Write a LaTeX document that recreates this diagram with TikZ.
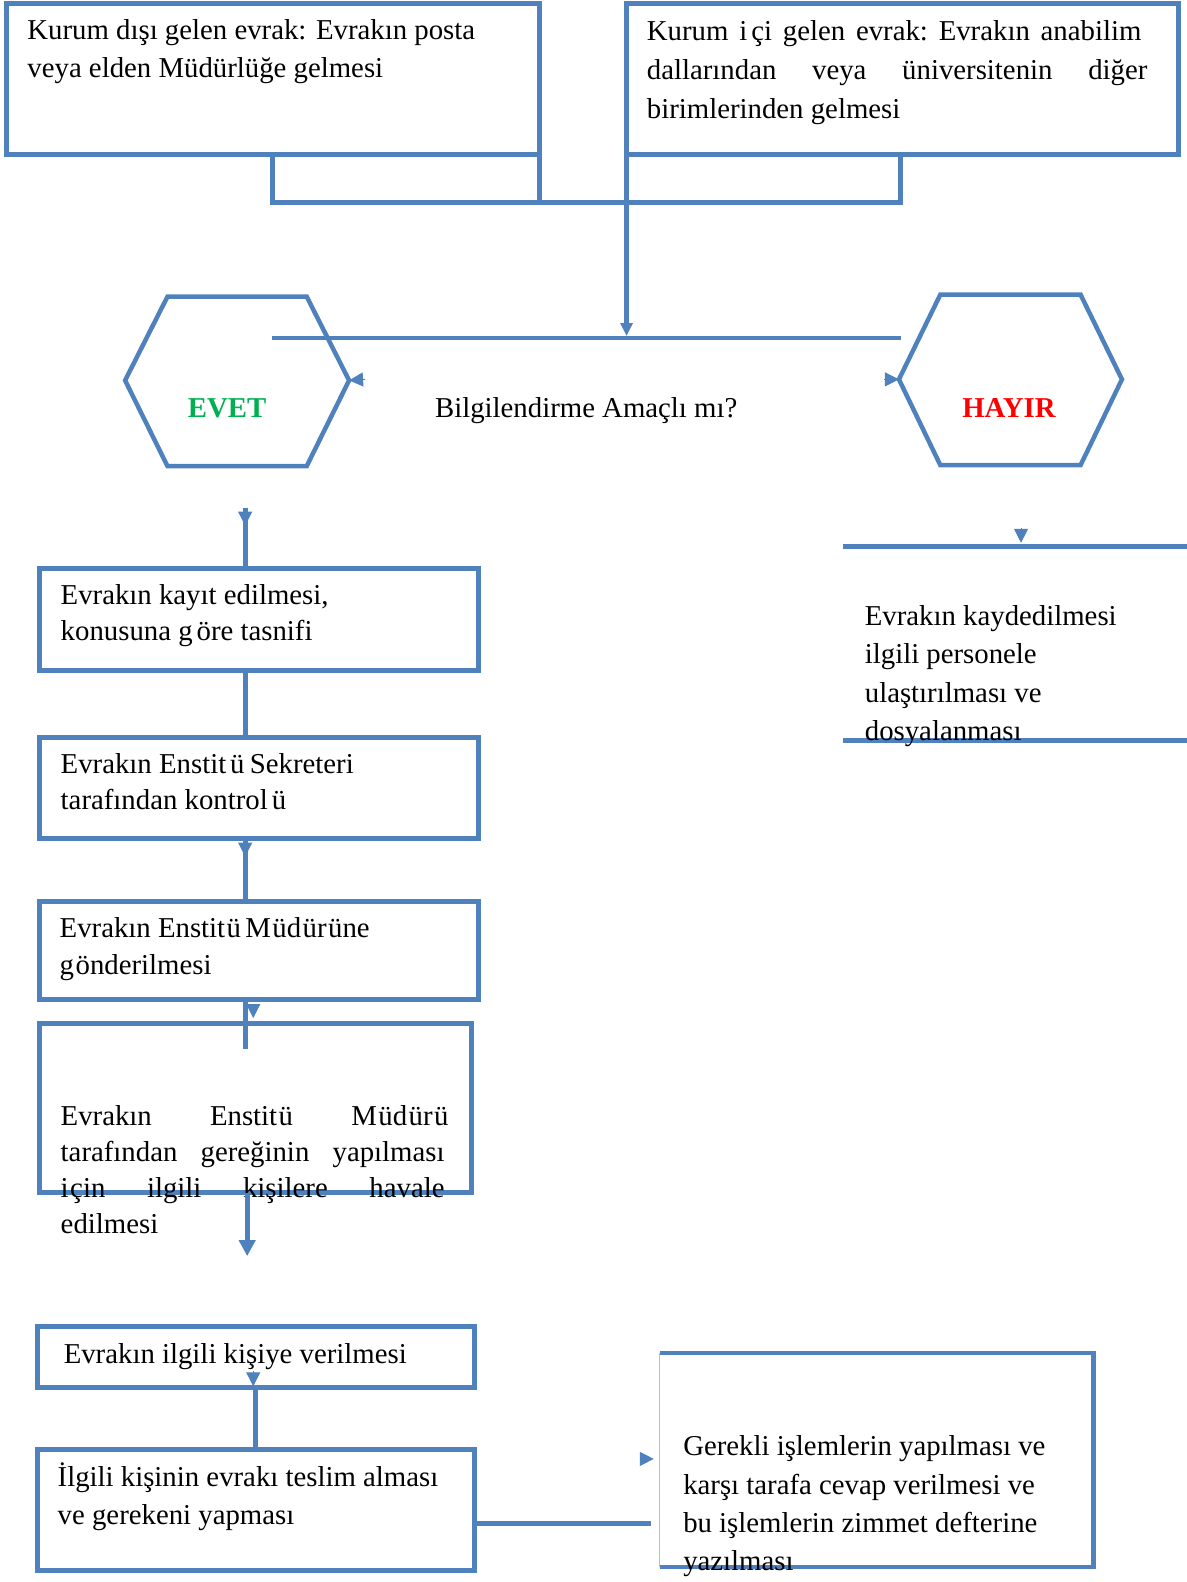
\documentclass[tikz,border=0pt]{standalone}
\usepackage{fontspec}
\setmainfont{Liberation Serif}
\usetikzlibrary{arrows.meta,fit}
\definecolor{frame}{RGB}{79,129,189}
\definecolor{framelight}{RGB}{170,195,225}
\definecolor{yesgreen}{RGB}{0,176,80}
\definecolor{nored}{RGB}{255,0,0}
\newcommand\gp{\kern4pt}
\newcommand\gq{\kern1.5pt}
\newcommand\bodyfont[1]{\fontsize{28.8}{#1}\selectfont}
\begin{document}
\begin{tikzpicture}[x=1.0094pt,y=-1.0094pt,
  box/.style={draw=frame, line width=5pt, inner sep=0pt, outer sep=0pt},
  conn/.style={draw=frame, line width=5pt},
  hexa/.style={draw=frame, line width=4.5pt, line join=miter},
  txt/.style={anchor=base west, inner sep=0pt},
  lbl/.style={anchor=base, inner sep=0pt, font=\bodyfont{34}},
  tiponly/.style={draw=frame, line width=1pt, -{Triangle[length=14pt,width=14pt]}},
  tipend/.style={-{Triangle[length=16pt,width=16pt]}}
]
\useasboundingbox (0,0) rectangle (1176,1568);

% --- incoming documents ---
\node[box, fit={(6,3) (535,153)}] (ext) {};
\node[txt] (exttxt) at (27,39) {\parbox[t]{520pt}{\bodyfont{38.6}Kurum dışı gelen evrak: Evrakın posta\\veya elden Müdürlüğe gelmesi}};

\node[box, fit={(621,3) (1168,153)}] (int) {};
\node[txt] (inttxt) at (641,40) {\parbox[t]{500.7pt}{\bodyfont{38.9}Kurum\hfill i\gp çi\hfill gelen\hfill evrak:\hfill Evrakın\hfill anabilim\hspace*{6pt}\\dallarından\hfill veya\hfill üniversitenin\hfill diğer\\birimlerinden gelmesi}};

% merge bracket under the two boxes
\coordinate (m1) at (270,201);
\coordinate (m2) at (893,201);
\coordinate (barL) at (270,335);
\coordinate (barR) at (893,335);
\draw[conn] (ext.south -| m1) -- (m1) -- (m2) -- (int.south -| m2);
\draw[conn] (ext.south east) -- (ext.south east |- m1);
\draw[conn, -{Triangle[length=13pt,width=12pt]}] (int.south west) -- ([yshift=2pt]int.south west |- barL);
\draw[conn] (barL) -- (barR);

% --- decision ---
\coordinate (eNW) at (166,294); \coordinate (eNE) at (304,294);
\coordinate (eE) at (346,377);  \coordinate (eSE) at (304,462);
\coordinate (eSW) at (166,462); \coordinate (eW) at (124,377);
\draw[hexa] (eNW) -- (eNE) -- (eE) -- (eSE) -- (eSW) -- (eW) -- cycle;
\node[lbl, text=yesgreen, font=\bodyfont{34}\bfseries] (evet) at (225,414) {EVET};

\node[lbl] (question) at (581,414) {Bilgilendirme Amaçlı mı?};

\coordinate (hNW) at (932,292); \coordinate (hNE) at (1071,292);
\coordinate (hE) at (1112,376); \coordinate (hSE) at (1071,461);
\coordinate (hSW) at (932,461); \coordinate (hW) at (891,376);
\draw[hexa] (hNW) -- (hNE) -- (hE) -- (hSE) -- (hSW) -- (hW) -- cycle;
\node[lbl, text=nored, font=\bodyfont{34}\bfseries] (hayir) at (1000,414) {HAYIR};

\coordinate (aE) at (362,376);
\draw[tiponly] (aE) -- (eE);
\coordinate (aW) at (876,376);
\draw[tiponly] (aW) -- (hW);

% --- HAYIR branch ---
\coordinate (hy1) at (1012,523);
\coordinate (hy2) at (1012,538);
\draw[tiponly] (hy1) -- (hy2);
\coordinate (hl1) at (836,542); \coordinate (hl2) at (1180,542);
\coordinate (hl3) at (836,734); \coordinate (hl4) at (1180,734);
\draw[conn] (hl1) -- (hl2);
\draw[conn] (hl3) -- (hl4);
\node[txt] (filetxt) at (857,620) {\parbox[t]{320pt}{\bodyfont{38.4}Evrakın kaydedilmesi\\ilgili personele\\ulaştırılması ve\\dosyalanması}};

% --- EVET branch ---
\coordinate (spine) at (243,0);
\coordinate (e1) at (243,503);
\coordinate (e1t) at (243,521);
\draw[tiponly] (e1) -- (e1t);

\node[box, fit={(39,563) (474,665)}] (b3) {};
\node[txt] (b3txt) at (60,599) {\parbox[t]{420pt}{\bodyfont{36}Evrakın kayıt edilmesi,\\konusuna g\gp öre tasnifi}};
\draw[conn] (e1) -- (b3.north -| spine);

\node[box, fit={(39,731) (474,831)}] (b4) {};
\node[txt] (b4txt) at (60,767) {\parbox[t]{420pt}{\bodyfont{36}Evrakın Enstit\gp ü\kern-2pt\ Sekreteri\\tarafından kontrol\gp ü}};
\draw[conn] (b3.south -| spine) -- (b4.north -| spine);

\node[box, fit={(39,894) (474,991)}] (b5) {};
\node[txt] (b5txt) at (59,929) {\parbox[t]{420pt}{\bodyfont{37}Evrakın Enstit\gq ü\kern-3pt\ M\gq üd\gq ür\gq üne\\g\gq önderilmesi}};
\draw[conn] (b4.south -| spine) -- (b5.north -| spine);
\coordinate (t4) at (243,835); \coordinate (t4e) at (243,849);
\draw[tiponly] (t4) -- (t4e);

\node[box, fit={(39,1014) (467,1182)}] (b6) {};
\node[txt] (b6txt) at (60,1116) {\parbox[t]{388pt}{\bodyfont{36}Evrakın\hfill Enstit\gq ü\hfill M\gq üd\gq ür\gq ü\\tarafından\hfill gereğinin\hfill yapılması\hspace*{4pt}\\i\gq çin\hfill ilgili\hfill kişilere\hfill havale\hspace*{4pt}\\edilmesi}};
\coordinate (t5) at (251,995); \coordinate (t5e) at (251,1009);
\draw[tiponly] (t5) -- (t5e);
\coordinate (s6) at (243,1040);
\draw[conn] (b5.south -| spine) -- (s6);

\coordinate (s7) at (245,1245);
\draw[conn, tipend] (b6.south -| s7) -- (s7);

\node[box, fit={(37,1315) (470,1375)}] (b7) {};
\node[txt] (b7txt) at (63,1351) {\parbox[t]{420pt}{\bodyfont{36}Evrakın ilgili kişiye verilmesi}};
\coordinate (t7) at (251,1359); \coordinate (t7e) at (251,1374);
\draw[tiponly] (t7) -- (t7e);

\coordinate (spine2) at (253,0);
\node[box, fit={(37,1437) (470,1557)}] (b8) {};
\node[txt] (b8txt) at (57,1473) {\parbox[t]{420pt}{\bodyfont{38}İlgili kişinin evrakı teslim alması\\ve gerekeni yapması}};
\draw[conn] (b7.south -| spine2) -- (b8.north -| spine2);

% --- final step ---
\node[inner sep=0pt, outer sep=0pt, fit={(654,1341) (1084,1553)}] (b9) {};
\draw[draw=frame, line width=4.5pt, line join=miter] (b9.north west) -- (b9.north east) -- (b9.south east) -- (b9.south west);
\draw[draw=framelight, line width=1pt] (b9.north west) -- (b9.south west);
\node[txt] (b9txt) at (677,1443) {\parbox[t]{420pt}{\bodyfont{38.3}Gerekli işlemlerin yapılması ve\\karşı tarafa cevap verilmesi ve\\bu işlemlerin zimmet defterine\\yazılması}};

\coordinate (r1) at (645,1510);
\draw[conn] (b8.east |- r1) -- (r1);
\coordinate (t9) at (634,1446); \coordinate (t9e) at (648,1446);
\draw[tiponly] (t9) -- (t9e);
\end{tikzpicture}
\end{document}
